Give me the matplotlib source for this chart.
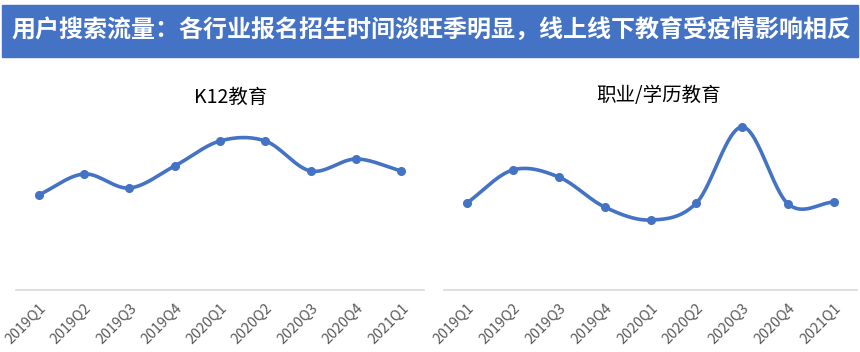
import numpy as np
import matplotlib.pyplot as plt
from matplotlib.patches import Rectangle

plt.rcParams['font.family'] = ['Noto Sans CJK SC', 'DejaVu Sans']

quarters = ['2019Q1', '2019Q2', '2019Q3', '2019Q4', '2020Q1',
            '2020Q2', '2020Q3', '2020Q4', '2021Q1']
k12 = [95, 116, 102, 124, 149, 149, 119, 131, 119]
vocational = [87, 120, 113, 83, 70, 87, 163, 86, 88]

title = '用户搜索流量：各行业报名招生时间淡旺季明显，线上线下教育受疫情影响相反'
panel_titles = ['K12教育', '职业/学历教育']

BLUE = '#4472C4'


def smooth(x, y, n=30):
    # catmull-rom style smoothing, like Excel's smoothed line
    x = np.asarray(x, float)
    y = np.asarray(y, float)
    px = np.concatenate([[2 * x[0] - x[1]], x, [2 * x[-1] - x[-2]]])
    py = np.concatenate([[2 * y[0] - y[1]], y, [2 * y[-1] - y[-2]]])
    xs, ys = [], []
    t = np.linspace(0, 1, n)
    for i in range(1, len(px) - 2):
        for p, out in ((px, xs), (py, ys)):
            p0, p1, p2, p3 = p[i - 1], p[i], p[i + 1], p[i + 2]
            out.append(0.5 * ((2 * p1) + (-p0 + p2) * t
                              + (2 * p0 - 5 * p1 + 4 * p2 - p3) * t ** 2
                              + (-p0 + 3 * p1 - 3 * p2 + p3) * t ** 3))
    return np.concatenate(xs), np.concatenate(ys)


W, H = 860, 352
fig = plt.figure(figsize=(W / 100, H / 100), dpi=100)

# title banner
fig.patches.append(Rectangle((2 / W, 1 - 57 / H), 856 / W, 52 / H,
                             transform=fig.transFigure, color=BLUE, zorder=0))
fig.text(431 / W, 1 - 31 / H, title, color='white', fontsize=17.3,
         fontweight='bold', ha='center', va='center')

panels = [(16, 424, k12, 231, 97), (444, 857, vocational, 659, 95)]
for i, (x0, x1, vals, tx, ty) in enumerate(panels):
    ax = fig.add_axes([x0 / W, 1 - 290 / H, (x1 - x0) / W, 180 / H])
    xi = np.arange(len(quarters))
    sx, sy = smooth(xi, vals)
    ax.plot(sx, sy, color=BLUE, lw=2.6, solid_capstyle='round')
    ax.plot(xi, vals, 'o', color=BLUE, ms=5.5)
    ax.set_xlim(-0.5, len(quarters) - 0.5)
    ax.set_ylim(0, 180)
    ax.set_xticks(xi)
    ax.set_xticklabels(quarters, rotation=45, ha='right',
                       rotation_mode='anchor', fontsize=10.3, color='#595959')
    ax.tick_params(axis='x', length=0, pad=8)
    ax.set_yticks([])
    for s in ['top', 'left', 'right']:
        ax.spines[s].set_visible(False)
    ax.spines['bottom'].set_color('#d9d9d9')
    ax.spines['bottom'].set_linewidth(1.2)
    fig.text(tx / W, 1 - ty / H, panel_titles[i], fontsize=14,
             ha='center', va='center', color='#000000')

fig.savefig('out.png', dpi=100)
